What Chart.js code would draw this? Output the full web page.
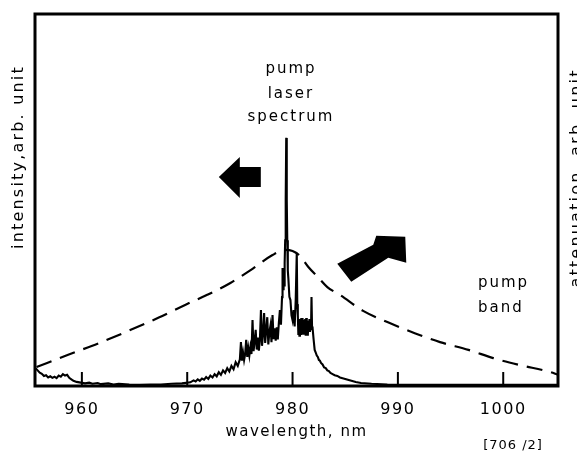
<!DOCTYPE html>
<html>
<head>
<meta charset="utf-8">
<script src="https://cdn.jsdelivr.net/npm/chart.js@4.4.1/dist/chart.umd.min.js"></script>
<style>
  html, body { margin: 0; padding: 0; background: #fff; }
  #wrap { width: 577px; height: 456px; }
</style>
</head>
<body>
<div id="wrap"><canvas id="grafico"></canvas></div>
<script>
// valores (comprimento de onda em nm, intensidade em unidade arbitraria 0-100)
const xTicks = [960, 970, 980, 990, 1000];

const specX = [955.6, 955.8, 956.0, 956.2, 956.4, 956.6, 956.8, 957.0, 957.2, 957.4, 957.6, 957.8, 958.0, 958.2, 958.4, 958.6, 958.8, 959.0, 959.2, 959.5,
  959.9, 960.3, 960.7, 961.0, 961.5, 961.8, 962.5, 963.0, 963.5, 964.5, 965.5, 966.5, 967.5, 968.5, 969.5, 970.3,
  970.6, 970.8, 971.0, 971.2, 971.4, 971.6, 971.8, 972.0, 972.2, 972.4, 972.6, 972.8, 973.0, 973.2, 973.4, 973.6, 973.8, 974.0, 974.2, 974.4, 974.6, 974.8, 975.0,
  975.1, 975.2, 975.3, 975.4, 975.5, 975.6, 975.7, 975.8, 975.9, 976.0, 976.1, 976.2, 976.3, 976.4, 976.5, 976.6, 976.7, 976.8, 976.9, 977.0,
  977.1, 977.2, 977.3, 977.4, 977.5, 977.6, 977.7, 977.8, 977.9, 978.0, 978.1, 978.2, 978.3, 978.4, 978.5, 978.6, 978.7, 978.8, 978.9, 979.0,
  979.05, 979.1, 979.15, 979.2, 979.25, 979.3, 979.35, 979.4, 979.45, 979.5, 979.55, 979.6, 979.7, 979.8, 979.9, 980.0, 980.1, 980.2, 980.3, 980.4,
  980.45, 980.5, 980.55, 980.6, 980.65, 980.7, 980.75, 980.8, 980.85, 980.9, 980.95, 981.0, 981.05, 981.1, 981.15, 981.2, 981.25, 981.3, 981.35, 981.4,
  981.45, 981.5, 981.55, 981.6, 981.65, 981.7, 981.75, 981.8, 981.85, 981.9, 982.0, 982.1, 982.2, 982.3, 982.4, 982.5, 982.6, 982.7, 982.85, 983.0,
  983.15, 983.3, 983.45, 983.6, 983.8, 984.0, 984.25, 984.5, 985.0, 985.5, 986.0, 986.5, 987.5, 989.0, 992.0, 996.0, 1000.0, 1005.2];
const specY = [4.8, 4.2, 3.6, 3.3, 2.7, 2.9, 2.3, 2.6, 2.2, 2.5, 2.1, 2.8, 2.5, 3.2, 2.8, 3.0, 2.2, 1.8, 1.4, 1.1,
  0.9, 0.7, 0.9, 0.6, 0.8, 0.5, 0.7, 0.4, 0.6, 0.4, 0.3, 0.4, 0.4, 0.6, 0.7, 1.0,
  1.5, 1.2, 1.8, 1.4, 2.0, 1.7, 2.4, 1.9, 2.8, 2.3, 3.2, 2.6, 3.7, 3.0, 4.2, 3.5, 4.8, 3.9, 5.4, 4.5, 6.4, 5.4, 7.2,
  11.8, 6.8, 9.0, 7.0, 8.6, 12.4, 7.8, 10.2, 8.2, 10.5, 8.6, 17.7, 9.4, 12.0, 15.1, 9.8, 13.0, 9.5, 12.5, 20.4,
  10.8, 14.0, 19.6, 11.6, 15.0, 18.5, 11.2, 14.5, 16.2, 11.8, 19.1, 12.6, 15.5, 12.2, 15.8, 12.5, 17.0, 20.4, 16.5, 23.9,
  31.7, 26.0, 31.0, 27.0, 33.0, 39.2, 50.0, 66.7, 50.0, 39.2, 31.0, 29.0, 24.0, 23.1, 19.0, 17.7, 20.4, 16.0, 23.1, 35.8,
  22.0, 19.1, 14.0, 18.0, 13.5, 17.5, 14.0, 18.2, 13.8, 18.3, 14.5, 17.8, 13.8, 17.0, 14.2, 18.0, 13.5, 18.3, 14.0, 17.5,
  13.5, 17.5, 14.5, 18.0, 14.5, 17.7, 15.0, 23.9, 16.0, 15.6, 12.5, 9.7, 9.0, 8.2, 7.8, 7.0, 6.8, 6.2, 5.8, 5.0,
  4.8, 4.2, 4.0, 3.5, 3.2, 2.9, 2.7, 2.3, 1.9, 1.5, 1.1, 0.8, 0.6, 0.4, 0.3, 0.3, 0.3, 0.3];

const bandX = [955.7, 958.7, 961.6, 964.4, 967.3, 969.8, 971.9, 974.1, 976.2, 978.1, 979.3, 980.0, 980.7, 981.5,
  982.4, 983.3, 984.5, 986.7, 989.0, 991.6, 994.0, 996.7, 999.05, 1001.6, 1004.4, 1005.2];
const bandY = [5.1, 8.4, 11.5, 14.8, 18.4, 21.8, 24.5, 27.7, 31.5, 35.2, 36.6, 36.3, 35.0, 32.0,
  29.3, 26.6, 24.5, 20.2, 17.2, 14.2, 11.8, 9.7, 7.5, 5.6, 3.8, 3.0];

const fonte = 'DejaVu Sans, Verdana, sans-serif';

// setas e textos ancorados em coordenadas de dados
const setas = [
  { x: 973.0, y: 56.2, forma: [[0, 0], [21, -20], [21, -10], [42, -10], [42, 10], [21, 10], [21, 21]] },
  { x: 990.7, y: 40.1, forma: [[0, 0], [1, 26], [-17, 21], [-54, 45], [-68, 27], [-32, 8], [-29, -1]] }
];
const rotulos = [
  { texto: 'pump', x: 979.85, y: 85.2, align: 'center' },
  { texto: 'laser', x: 979.85, y: 78.5, align: 'center' },
  { texto: 'spectrum', x: 979.85, y: 72.3, align: 'center' },
  { texto: 'pump', x: 997.6, y: 27.7, align: 'left' },
  { texto: 'band', x: 997.6, y: 21.0, align: 'left' }
];

const moldura = {
  id: 'moldura',
  beforeDraw(chart) {
    chart.ctx.letterSpacing = '1.5px';
  },
  afterDatasetsDraw(chart) {
    const { ctx, chartArea: a, scales: { x, y } } = chart;
    ctx.save();
    ctx.strokeStyle = '#000';
    ctx.fillStyle = '#000';
    ctx.lineWidth = 2;
    xTicks.forEach(t => {
      const px = x.getPixelForValue(t);
      ctx.beginPath();
      ctx.moveTo(px, a.bottom);
      ctx.lineTo(px, a.bottom - 14);
      ctx.stroke();
    });
    ctx.lineWidth = 3;
    ctx.strokeRect(a.left, a.top, a.right - a.left, a.bottom - a.top);

    setas.forEach(s => {
      const ox = x.getPixelForValue(s.x), oy = y.getPixelForValue(s.y);
      ctx.beginPath();
      s.forma.forEach(([dx, dy], i) => i ? ctx.lineTo(ox + dx, oy + dy) : ctx.moveTo(ox + dx, oy + dy));
      ctx.closePath();
      ctx.fill();
    });

    ctx.letterSpacing = '2px';
    ctx.font = '15px ' + fonte;
    ctx.textBaseline = 'middle';
    rotulos.forEach(r => {
      ctx.textAlign = r.align;
      ctx.fillText(r.texto, x.getPixelForValue(r.x), y.getPixelForValue(r.y));
    });

    ctx.letterSpacing = '2.2px';
    ctx.font = '16px ' + fonte;
    ctx.textAlign = 'center';
    ctx.save();
    ctx.translate(19, 157);
    ctx.rotate(-Math.PI / 2);
    ctx.fillText('intensity,arb. unit', 0, 0);
    ctx.restore();
    ctx.save();
    ctx.translate(577, 178);
    ctx.rotate(-Math.PI / 2);
    ctx.fillText('attenuation, arb. unit', 0, 0);
    ctx.restore();

    ctx.letterSpacing = '1px';
    ctx.font = '13px ' + fonte;
    ctx.fillText('[706 /2]', 513, 446);
    ctx.restore();
  }
};

const ctx = document.getElementById('grafico').getContext('2d');
new Chart(ctx, {
  type: 'scatter',
  data: {
    datasets: [{
      label: 'pump laser spectrum',
      data: specX.map((v, i) => ({ x: v, y: specY[i] })),
      showLine: true,
      borderColor: '#000',
      borderWidth: 2.1,
      pointRadius: 0,
      tension: 0
    }, {
      label: 'pump band',
      data: bandX.map((v, i) => ({ x: v, y: bandY[i] })),
      showLine: true,
      borderColor: '#000',
      borderWidth: 2.2,
      borderDash: [16, 9],
      pointRadius: 0,
      cubicInterpolationMode: 'monotone'
    }]
  },
  options: {
    responsive: true,
    maintainAspectRatio: false,
    animation: false,
    layout: { padding: { left: 35, right: 19, top: 14, bottom: 14 } },
    plugins: { legend: { display: false }, tooltip: { enabled: false } },
    scales: {
      x: {
        type: 'linear',
        min: 955.55,
        max: 1005.2,
        afterBuildTicks: s => { s.ticks = xTicks.map(v => ({ value: v })); },
        afterFit: s => { s.height = 56; },
        grid: { display: false, drawTicks: false },
        border: { display: false },
        ticks: { color: '#000', padding: 14, font: { family: fonte, size: 16 }, callback: v => String(v) },
        title: {
          display: true,
          text: 'wavelength, nm',
          color: '#000',
          padding: { top: 0, bottom: 1 },
          font: { family: fonte, size: 15 }
        }
      },
      y: { display: false, min: 0, max: 100 }
    }
  },
  plugins: [moldura]
});
</script>
</body>
</html>
